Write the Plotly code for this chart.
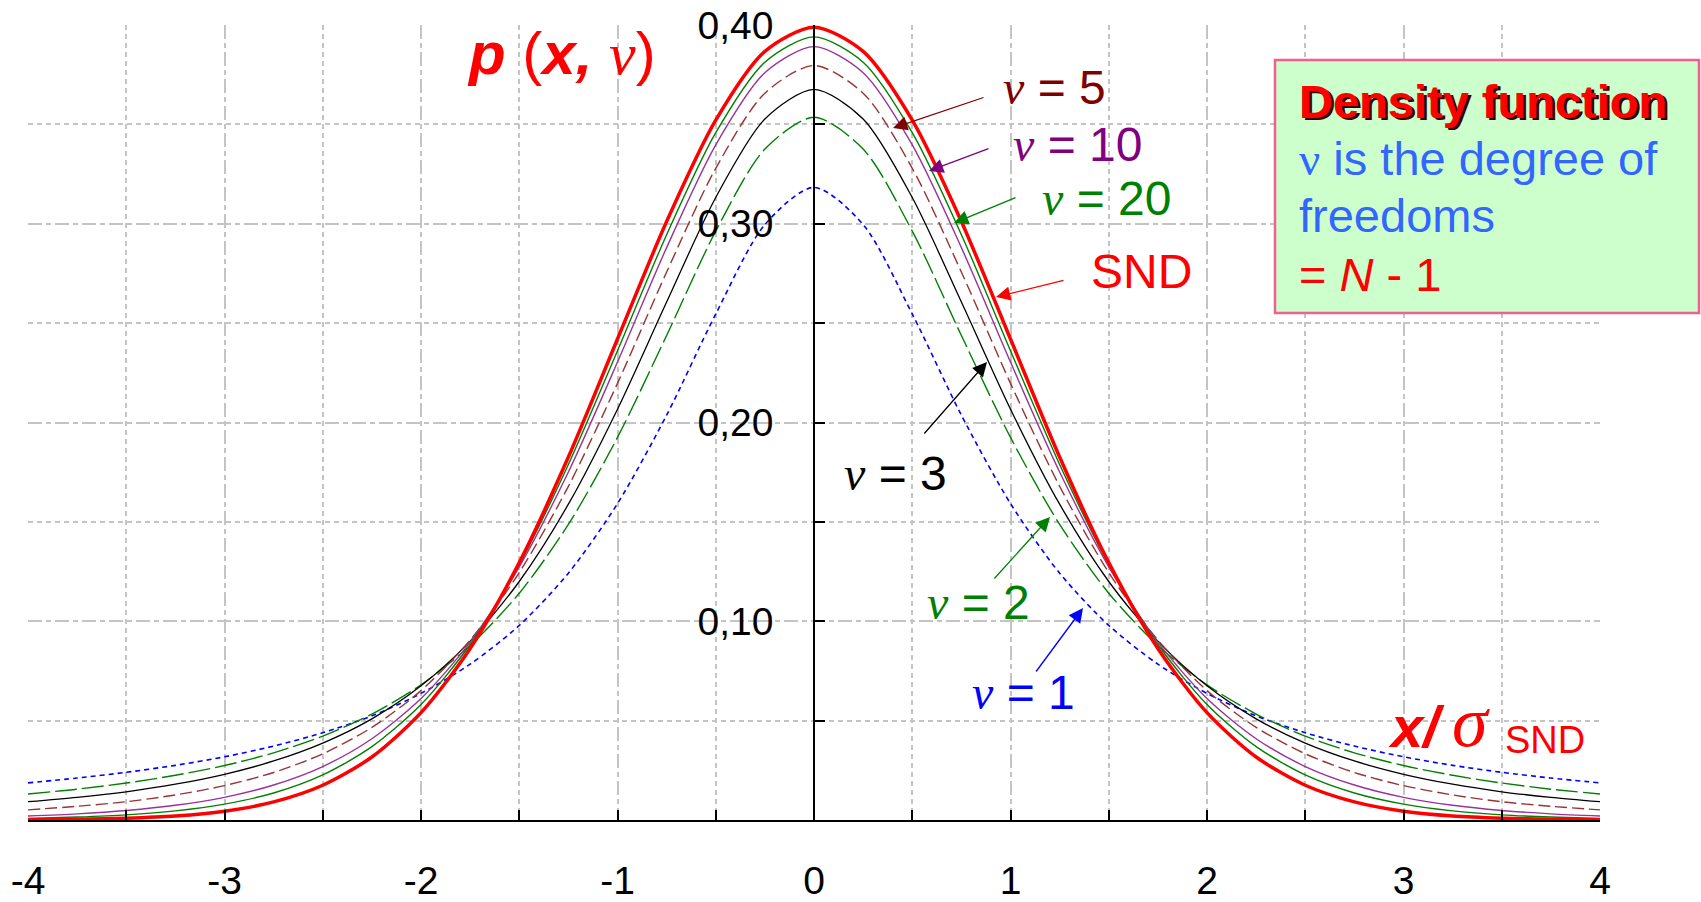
import plotly.graph_objects as go

# ---------------- data ----------------
x_vals = [-4.0, -3.75, -3.5, -3.25, -3.0, -2.75, -2.5, -2.25, -2.0, -1.75, -1.5, -1.25, -1.0, -0.75, -0.5, -0.25,
          0.0, 0.25, 0.5, 0.75, 1.0, 1.25, 1.5, 1.75, 2.0, 2.25, 2.5, 2.75, 3.0, 3.25, 3.5, 3.75, 4.0]

p_snd = [0.0001, 0.0004, 0.0009, 0.0020, 0.0044, 0.0091, 0.0175, 0.0317, 0.0540, 0.0863, 0.1295, 0.1826, 0.2420, 0.3011, 0.3521, 0.3867,
         0.3989, 0.3867, 0.3521, 0.3011, 0.2420, 0.1826, 0.1295, 0.0863, 0.0540, 0.0317, 0.0175, 0.0091, 0.0044, 0.0020, 0.0009, 0.0004, 0.0001]
p_nu20 = [0.0008, 0.0015, 0.0026, 0.0046, 0.0080, 0.0136, 0.0227, 0.0369, 0.0581, 0.0883, 0.1286, 0.1789, 0.2361, 0.2945, 0.3458, 0.3813,
          0.3940, 0.3813, 0.3458, 0.2945, 0.2361, 0.1789, 0.1286, 0.0883, 0.0581, 0.0369, 0.0227, 0.0136, 0.0080, 0.0046, 0.0026, 0.0015, 0.0008]
p_nu10 = [0.0020, 0.0031, 0.0048, 0.0074, 0.0114, 0.0176, 0.0269, 0.0409, 0.0611, 0.0895, 0.1274, 0.1751, 0.2304, 0.2880, 0.3397, 0.3760,
          0.3891, 0.3760, 0.3397, 0.2880, 0.2304, 0.1751, 0.1274, 0.0895, 0.0611, 0.0409, 0.0269, 0.0176, 0.0114, 0.0074, 0.0048, 0.0031, 0.0020]
p_nu5 = [0.0051, 0.0069, 0.0092, 0.0126, 0.0173, 0.0239, 0.0333, 0.0466, 0.0651, 0.0905, 0.1245, 0.1679, 0.2197, 0.2757, 0.3279, 0.3657,
         0.3796, 0.3657, 0.3279, 0.2757, 0.2197, 0.1679, 0.1245, 0.0905, 0.0651, 0.0466, 0.0333, 0.0239, 0.0173, 0.0126, 0.0092, 0.0069, 0.0051]
p_nu3 = [0.0092, 0.0114, 0.0142, 0.0180, 0.0230, 0.0297, 0.0387, 0.0509, 0.0675, 0.0900, 0.1200, 0.1589, 0.2067, 0.2606, 0.3132, 0.3527,
         0.3676, 0.3527, 0.3132, 0.2606, 0.2067, 0.1589, 0.1200, 0.0900, 0.0675, 0.0509, 0.0387, 0.0297, 0.0230, 0.0180, 0.0142, 0.0114, 0.0092]
p_nu2 = [0.0131, 0.0155, 0.0186, 0.0225, 0.0274, 0.0338, 0.0422, 0.0533, 0.0680, 0.0878, 0.1141, 0.1487, 0.1925, 0.2438, 0.2963, 0.3376,
         0.3536, 0.3376, 0.2963, 0.2438, 0.1925, 0.1487, 0.1141, 0.0878, 0.0680, 0.0533, 0.0422, 0.0338, 0.0274, 0.0225, 0.0186, 0.0155, 0.0131]
p_nu1 = [0.0187, 0.0211, 0.0240, 0.0275, 0.0318, 0.0372, 0.0439, 0.0524, 0.0637, 0.0784, 0.0979, 0.1242, 0.1592, 0.2037, 0.2546, 0.2996,
         0.3183, 0.2996, 0.2546, 0.2037, 0.1592, 0.1242, 0.0979, 0.0784, 0.0637, 0.0524, 0.0439, 0.0372, 0.0318, 0.0275, 0.0240, 0.0211, 0.0187]

x_tick_vals = [-4, -3, -2, -1, 0, 1, 2, 3, 4]
x_tick_text = ["-4", "-3", "-2", "-1", "0", "1", "2", "3", "4"]
y_tick_vals = [0.1, 0.2, 0.3, 0.4]
y_tick_text = ["0,10", "0,20", "0,30", "0,40"]

# ---------------- layout geometry (pixels) ----------------
W_PX, H_PX = 1701, 902
L, R_EDGE, T, B = 28, 1600, 25, 820
PW, PH = R_EDGE - L, B - T

def px(xp):
    return (xp - L) / PW

def py(yp):
    return (B - yp) / PH

SANS = "Liberation Sans, Arial, sans-serif"
SERIF = "Liberation Serif, Times New Roman, serif"
NU = '<span style="font-family:Liberation Serif"><i>ν</i></span>'

fig = go.Figure()

series = [
    (p_nu1, "#0000ff", 1.6, "5px,4px", "ν = 1"),
    (p_nu2, "#008000", 1.4, "22px,5px", "ν = 2"),
    (p_nu3, "#000000", 1.3, "solid", "ν = 3"),
    (p_nu5, "#993333", 1.4, "12px,5px", "ν = 5"),
    (p_nu10, "#993399", 1.4, "solid", "ν = 10"),
    (p_nu20, "#008000", 1.4, "solid", "ν = 20"),
    (p_snd, "#ff0000", 3.5, "solid", "SND"),
]
for ys, col, w, dash, name in series:
    fig.add_trace(go.Scatter(x=x_vals, y=ys, mode="lines", name=name,
                             line=dict(color=col, width=w, dash=dash, shape="spline", smoothing=0.8),
                             showlegend=False))

GRIDC = "#c4c4c4"
fig.update_layout(
    width=W_PX, height=H_PX,
    margin=dict(l=L, r=W_PX - R_EDGE, t=T, b=H_PX - B, pad=0, autoexpand=False),
    paper_bgcolor="white", plot_bgcolor="white",
    showlegend=False,
    xaxis=dict(range=[-4, 4], tickmode="array", tickvals=x_tick_vals, ticktext=x_tick_text,
               ticks="inside", ticklen=10, tickwidth=1.5, tickcolor="black",
               showline=True, linecolor="black", linewidth=1.5, zeroline=False,
               showgrid=True, gridcolor=GRIDC, gridwidth=1.5, griddash="14px,5px,3px,5px",
               minor=dict(dtick=0.5, tick0=0, ticks="inside", ticklen=10, tickwidth=1.5, tickcolor="black",
                          showgrid=True, gridcolor=GRIDC, gridwidth=1.5, griddash="5px,4px"),
               tickfont=dict(family=SANS, size=39, color="black"),
               ticklabelstandoff=25, automargin=False, fixedrange=True),
    yaxis=dict(range=[0, 0.4], tickmode="array", tickvals=y_tick_vals, ticktext=y_tick_text,
               anchor="free", position=0.5,
               ticks="inside", ticklen=10, tickwidth=1.5, tickcolor="black",
               showline=True, linecolor="black", linewidth=1.5, zeroline=False,
               showgrid=True, gridcolor=GRIDC, gridwidth=1.5, griddash="14px,5px,3px,5px",
               minor=dict(dtick=0.05, tick0=0, ticks="inside", ticklen=10, tickwidth=1.5, tickcolor="black",
                          showgrid=True, gridcolor=GRIDC, gridwidth=1.5, griddash="5px,4px"),
               tickfont=dict(family=SANS, size=39, color="black"),
               ticklabelstandoff=32, automargin=False, fixedrange=True),
)

ann = []

# curve labels
labels = [
    (NU + " = 5", "#800000", 1054, 88),
    (NU + " = 10", "#800080", 1077, 145),
    (NU + " = 20", "#008000", 1106, 199),
    ("SND", "#ff0000", 1141, 271),
    (NU + " = 3", "#000000", 895, 473),
    (NU + " = 2", "#008000", 978, 602),
    (NU + " = 1", "#0000ff", 1024, 692),
]
for txt, col, cx, cy in labels:
    ann.append(dict(text=txt, x=px(cx), y=py(cy), xref="paper", yref="paper",
                    xanchor="center", yanchor="middle", showarrow=False,
                    font=dict(family=SANS, size=48, color=col)))

# arrows (tail -> tip)
arrows = [
    ((985, 97), (893, 128), "#800000"),
    ((990, 148), (929, 171), "#800080"),
    ((1017, 197), (954, 223), "#008000"),
    ((1065, 280), (996, 297), "#ff0000"),
    ((923, 435), (987, 362), "#000000"),
    ((993, 580), (1050, 517), "#008000"),
    ((1035, 673), (1083, 608), "#0000ff"),
]
for (tx, ty), (hx, hy), col in arrows:
    ann.append(dict(text="", x=px(hx), y=py(hy), xref="paper", yref="paper",
                    ax=tx - hx, ay=ty - hy, axref="pixel", ayref="pixel",
                    showarrow=True, arrowhead=2, arrowsize=2.2, arrowwidth=1.3,
                    arrowcolor=col, standoff=0, startstandoff=0))

# axis titles
ann.append(dict(text='<b><i>p</i></b> (<b><i>x,</i></b> <span style="font-family:Liberation Serif"><i>ν</i></span>)',
                x=px(561), y=py(54), xref="paper", yref="paper", xanchor="center", yanchor="middle",
                showarrow=False, font=dict(family=SANS, size=60, color="#ff0000")))
ann.append(dict(text='<b><i>x/</i></b>', x=px(1386), y=py(726), xref="paper", yref="paper",
                xanchor="left", yanchor="middle", showarrow=False,
                font=dict(family=SANS, size=58, color="#ff0000")))
ann.append(dict(text='<i>σ</i>', x=px(1450), y=py(722), xref="paper", yref="paper",
                xanchor="left", yanchor="middle", showarrow=False,
                font=dict(family=SERIF, size=72, color="#ff0000")))
ann.append(dict(text='SND', x=px(1503), y=py(740), xref="paper", yref="paper",
                xanchor="left", yanchor="middle", showarrow=False,
                font=dict(family=SANS, size=38, color="#ff0000")))

# info box text
box_lines = [
    ("<b>Density function</b>", "#ff0000", 102),
    ('<span style="font-family:Liberation Serif">ν</span> is the degree of', "#3366ff", 159),
    ("freedoms", "#3366ff", 216),
    ("= <i>N</i> - 1", "#ff0000", 274),
]
ann.append(dict(text="<b>Density function</b>", x=px(1299.5), y=py(104), xref="paper", yref="paper",
                xanchor="left", yanchor="middle", showarrow=False,
                font=dict(family=SANS, size=47, color="#330000")))
for txt, col, cy in box_lines:
    ann.append(dict(text=txt, x=px(1297), y=py(cy), xref="paper", yref="paper",
                    xanchor="left", yanchor="middle", showarrow=False,
                    font=dict(family=SANS, size=47, color=col)))

fig.update_layout(annotations=ann)

fig.add_shape(type="rect", xref="paper", yref="paper",
              x0=px(1275), x1=px(1699), y0=py(313), y1=py(60),
              fillcolor="#ccffcc", line=dict(color="#f06090", width=2.5), layer="above")

fig.write_html("out.html")
